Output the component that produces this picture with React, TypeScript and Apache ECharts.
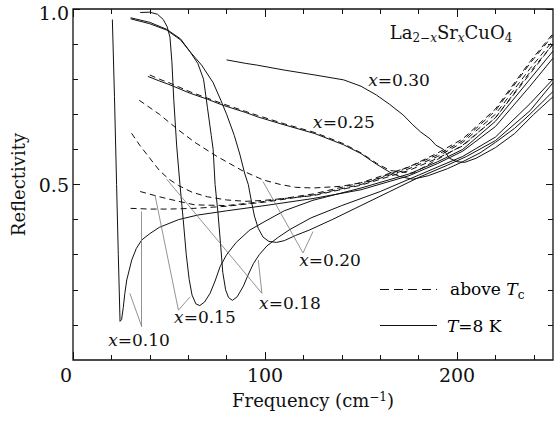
import React, { useEffect, useRef } from 'react';
import * as echarts from 'echarts';

const FONT = 'DejaVu Serif';
const INK = '#111';

// Frequency (cm^-1), reflectivity pairs
const s010: [number, number][] = [[20.5,0.97],[21.6,0.75],[22.7,0.5],[23.6,0.3],[24.5,0.11],[25.3,0.115],[26.2,0.15],[27,0.19],[28,0.228],[30.6,0.285],[33,0.318],[35.8,0.342],[40,0.36],[45,0.378],[55,0.4],[65,0.413],[80,0.425],[100,0.44],[125,0.46],[150,0.485],[175,0.525],[190,0.56],[203,0.595],[220,0.665],[238,0.78],[250,0.86]];
const d010: [number, number][] = [[30,0.432],[40,0.43],[50,0.43],[63,0.432],[80,0.438],[100,0.45],[125,0.47],[150,0.5],[175,0.545],[190,0.58],[203,0.62],[220,0.7],[238,0.83],[250,0.91]];
const s015: [number, number][] = [[35,0.99],[40,0.991],[44,0.985],[47,0.97],[49,0.95],[50.5,0.92],[51.5,0.85],[52.5,0.74],[54,0.61],[55.7,0.5],[57.4,0.4],[59,0.3],[60.5,0.23],[62,0.185],[64,0.16],[66,0.155],[68.5,0.165],[71.4,0.19],[74,0.225],[76.6,0.266],[80,0.3],[85,0.335],[92,0.37],[100,0.395],[110,0.425],[125,0.455],[150,0.49],[175,0.53],[190,0.565],[203,0.6],[220,0.68],[238,0.8],[250,0.88]];
const d015: [number, number][] = [[35,0.48],[45,0.465],[55,0.452],[63.5,0.442],[80,0.44],[100,0.452],[125,0.473],[150,0.505],[175,0.55],[190,0.585],[203,0.625],[220,0.71],[238,0.845],[250,0.925]];
const s018: [number, number][] = [[30,0.975],[40,0.962],[48.8,0.942],[56,0.915],[61,0.878],[65,0.845],[68,0.8],[70,0.72],[72,0.64],[73,0.6],[74,0.5],[75.5,0.42],[77,0.32],[78,0.25],[79.5,0.2],[81,0.178],[83,0.17],[85.5,0.18],[88.7,0.21],[91,0.24],[94,0.275],[97,0.3],[101,0.325],[107,0.35],[113,0.372],[124,0.405],[140,0.44],[160,0.48],[175,0.515],[190,0.55],[203,0.58],[220,0.635],[238,0.73],[250,0.8]];
const d018: [number, number][] = [[30.5,0.646],[35,0.61],[40,0.575],[45,0.54],[50,0.515],[55,0.497],[62,0.478],[70,0.465],[80,0.456],[90,0.452],[100,0.455],[125,0.468],[150,0.498],[175,0.54],[190,0.575],[203,0.61],[220,0.69],[238,0.82],[250,0.9]];
const s020: [number, number][] = [[30,0.972],[40,0.958],[48.8,0.94],[56,0.912],[61,0.878],[67,0.84],[73,0.79],[77,0.74],[80,0.7],[84,0.64],[87,0.584],[89.5,0.53],[91.3,0.5],[93,0.45],[94.5,0.41],[96.5,0.375],[99,0.35],[102,0.338],[106,0.335],[110,0.34],[116,0.355],[123,0.37],[135,0.4],[150,0.44],[165,0.48],[180,0.52],[195,0.555],[205,0.58],[220,0.625],[238,0.71],[250,0.79]];
const d020: [number, number][] = [[34.5,0.74],[45,0.7],[55,0.655],[63.5,0.62],[75,0.58],[88,0.54],[99,0.513],[108,0.5],[116,0.492],[125,0.49],[140,0.495],[155,0.51],[175,0.55],[190,0.59],[203,0.63],[220,0.715],[238,0.85],[250,0.93]];
const s025: [number, number][] = [[39,0.808],[45,0.795],[50,0.785],[61,0.76],[70,0.743],[78,0.726],[90,0.705],[96,0.693],[110,0.67],[126,0.645],[141,0.613],[150,0.588],[158,0.558],[165,0.535],[170,0.523],[177,0.515],[185,0.525],[195,0.545],[203,0.565],[212,0.59],[220,0.62],[230,0.66],[238,0.7],[250,0.765]];
const d025: [number, number][] = [[40,0.812],[45,0.8],[50,0.79],[61,0.764],[70,0.746],[78,0.73],[90,0.708],[96,0.697],[110,0.673],[126,0.648],[141,0.616],[150,0.59],[158,0.561],[165,0.54],[177,0.532],[190,0.572],[203,0.612],[220,0.69],[238,0.815],[250,0.9]];
const s030: [number, number][] = [[80,0.855],[90,0.845],[96,0.84],[110,0.826],[126,0.812],[141,0.798],[150,0.78],[158,0.755],[165,0.728],[172,0.698],[177,0.67],[181,0.65],[186,0.63],[189,0.612],[193,0.6],[196,0.575],[200,0.565],[204,0.563],[210,0.575],[220,0.605],[230,0.645],[240,0.7],[250,0.75]];

// Annotation labels: [frequency, reflectivity, text]
const curveLabels: [number, number, string][] = [
  [34.4, 0.057, '0.10'],
  [68.7, 0.123, '0.15'],
  [113, 0.162, '0.18'],
  [133.9, 0.285, '0.20'],
  [141.1, 0.678, '0.25'],
  [169.8, 0.798, '0.30'],
];
// Arrows: [fromX, fromY, toX, toY]
const arrows: [number, number, number, number][] = [
  [35.8, 0.095, 35.8, 0.423],
  [35.8, 0.095, 29.6, 0.19],
  [54.9, 0.142, 42.7, 0.47],
  [54.9, 0.142, 61, 0.18],
  [98.4, 0.19, 96.5, 0.285],
  [98.4, 0.19, 48.8, 0.515],
  [119.8, 0.305, 125, 0.366],
  [119.8, 0.305, 99, 0.508],
];
const titlePos: [number, number] = [196.9, 0.934];

// tick positions
const xMinorTicks = [20, 40, 60, 80, 120, 140, 160, 180, 220, 240];
const xMajorTicks = [0, 100, 200];
const yMinorTicks = [0.1, 0.2, 0.3, 0.4, 0.6, 0.7, 0.8, 0.9];
const yMajorTicks = [0.5, 1.0];

function App() {
  const ref = useRef<HTMLDivElement>(null);
  useEffect(() => {
    if (!ref.current) return;
    const chart = echarts.init(ref.current, null, { renderer: 'svg' });
    const txt = (extra: any = {}) => ({ fontFamily: FONT, fontSize: 17, color: INK, ...extra });
    const rich = {
      n: txt({ lineHeight: 24, verticalAlign: 'middle' }),
      i: txt({ fontStyle: 'italic', lineHeight: 24, verticalAlign: 'middle' }),
      tn: txt({ fontSize: 18, lineHeight: 24, verticalAlign: 'middle' }),
      s: txt({ fontSize: 12, lineHeight: 13, verticalAlign: 'bottom' }),
      si: txt({ fontSize: 12, lineHeight: 13, verticalAlign: 'bottom', fontStyle: 'italic' }),
    };
    const line = (name: string, data: [number, number][], dashed: boolean, extra: any = {}) => ({
      type: 'line', name, data, symbol: 'none', showSymbol: false, silent: true,
      lineStyle: { color: INK, width: 1, type: dashed ? [6, 4] : 'solid' },
      ...extra,
    });
    const markPointData = [
      ...curveLabels.map(([x, y, t]) => ({
        coord: [x, y],
        label: { formatter: `{i|x}{n|=${t}}` },
      })),
      {
        coord: titlePos,
        label: { formatter: '{tn|La}{s|2−}{si|x}{tn|Sr}{si|x}{tn|CuO}{s|4}' },
      },
    ];
    const tickAxis = (pos: string, min: number, max: number, values: number[], len: number) => ({
      type: 'value', min, max, position: pos,
      axisLine: { show: false, onZero: false }, splitLine: { show: false },
      axisTick: { show: true, inside: true, length: len, customValues: values, lineStyle: { color: INK, width: 1 } },
      axisLabel: { show: false },
    });
    const option: any = {
      animation: false,
      backgroundColor: '#fff',
      textStyle: { fontFamily: FONT },
      grid: { left: 73, right: 7, top: 9, bottom: 63, containLabel: false, show: true, borderColor: INK, borderWidth: 1.3, backgroundColor: 'transparent' },
      xAxis: [
        {
          ...tickAxis('bottom', 0, 250, xMinorTicks, 5),
          axisLabel: {
            show: true, margin: 5, fontFamily: FONT, fontSize: 19, color: INK,
            customValues: xMajorTicks,
            formatter: (v: number) => (v === 0 ? '{z|0}' : String(v)),
            rich: { z: { fontFamily: FONT, fontSize: 19, color: INK, padding: [0, 14, 0, 0] } },
          },
          name: 'Frequency (cm{sup|−1})', nameLocation: 'middle', nameGap: 31,
          nameTextStyle: {
            fontFamily: FONT, fontSize: 18, color: INK,
            rich: {
              sup: { fontFamily: FONT, fontSize: 12, color: INK, lineHeight: 13, verticalAlign: 'top' },
            },
          },
        },
        tickAxis('top', 0, 250, xMinorTicks, 5),
        tickAxis('bottom', 0, 250, xMajorTicks, 8),
        tickAxis('top', 0, 250, xMajorTicks, 8),
      ],
      yAxis: [
        {
          ...tickAxis('left', 0, 1, yMinorTicks, 5),
          axisLabel: {
            show: true, margin: 4, fontFamily: FONT, fontSize: 19, color: INK,
            customValues: yMajorTicks,
            formatter: (v: number) => (v > 0.99 ? '{t|1.0}' : v.toFixed(1)),
            rich: { t: { fontFamily: FONT, fontSize: 19, color: INK, padding: [7, 0, 0, 0] } },
          },
          name: 'Reflectivity', nameLocation: 'middle', nameGap: 34,
          nameTextStyle: { fontFamily: FONT, fontSize: 18, color: INK },
        },
        tickAxis('right', 0, 1, yMinorTicks, 5),
        tickAxis('left', 0, 1, yMajorTicks, 7),
        tickAxis('right', 0, 1, yMajorTicks, 7),
      ],
      series: [
        line('x=0.10 8K', s010, false, {
          markPoint: {
            silent: true, symbol: 'circle', symbolSize: 1,
            itemStyle: { color: 'rgba(0,0,0,0)' },
            label: { show: true, position: 'inside', rich },
            data: markPointData,
          },
          markLine: {
            silent: true, symbol: ['none', 'arrow'], symbolSize: [0, 7],
            lineStyle: { color: '#777', width: 0.8, type: 'solid' },
            label: { show: false },
            emphasis: { disabled: true },
            data: arrows.map(([x1, y1, x2, y2]) => [{ coord: [x1, y1] }, { coord: [x2, y2] }]),
          },
        }),
        line('x=0.10 above', d010, true),
        line('x=0.15 8K', s015, false),
        line('x=0.15 above', d015, true),
        line('x=0.18 8K', s018, false),
        line('x=0.18 above', d018, true),
        line('x=0.20 8K', s020, false),
        line('x=0.20 above', d020, true),
        line('x=0.25 8K', s025, false),
        line('x=0.25 above', d025, true),
        line('x=0.30 8K', s030, false),
      ],
      graphic: [
        { type: 'line', shape: { x1: 380, y1: 289.5, x2: 437, y2: 289.5 }, style: { stroke: INK, lineWidth: 1, lineDash: [9, 5] } },
        { type: 'line', shape: { x1: 380, y1: 325.5, x2: 437, y2: 325.5 }, style: { stroke: INK, lineWidth: 1 } },
        {
          type: 'text', x: 450, y: 289, style: {
            text: '{n|above }{i|T}{s|c}', verticalAlign: 'middle', align: 'left', rich,
          },
        },
        {
          type: 'text', x: 447, y: 325.5, style: {
            text: '{i|T}{n|=8 K}', verticalAlign: 'middle', align: 'left', rich,
          },
        },
      ],
    };
    chart.setOption(option);
    return () => chart.dispose();
  }, []);
  return <div ref={ref} style={{ position: 'absolute', left: 0, top: 0, width: 560, height: 423, background: '#fff' }} />;
}

export default App;
